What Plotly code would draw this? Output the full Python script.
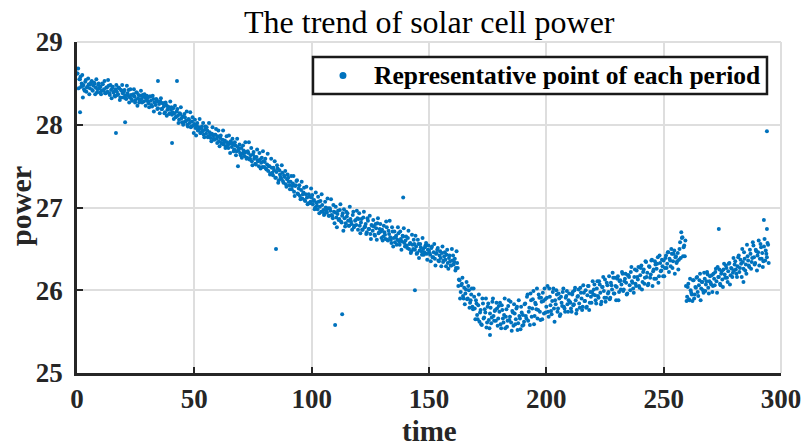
import plotly.graph_objects as go

# ---- data ----
t_start = 0.0          # first sample time
t_step = 0.5           # sampling period of each set of representative points
t_offset_b = 0.25      # second set is sampled half a period later

power_rows_a = [
    [28.62, 28.68, 28.55, 28.58, 28.50, 28.47, 28.43, 28.52, 28.40, 28.46, 28.49, 28.44, 28.51, 28.42, 28.47, 28.50, 28.45, 28.39, 28.48, 28.44],
    [28.46, 28.41, 28.49, 28.43, 28.38, 28.45, 28.40, 28.47, 28.36, 28.42, 28.44, 28.39, 28.35, 28.43, 28.40, 28.37, 28.44, 28.33, 28.41, 28.38],
    [28.40, 28.35, 28.31, 28.38, 28.42, 28.33, 28.36, 28.29, 28.37, 28.34, 28.30, 28.39, 28.32, 28.27, 28.35, 28.31, 28.36, 28.28, 28.33, 28.30],
    [28.32, 28.26, 28.34, 28.29, 28.22, 28.31, 28.27, 28.24, 28.30, 28.20, 28.25, 28.28, 28.19, 28.26, 28.22, 28.15, 28.24, 28.18, 28.21, 28.14],
    [28.18, 28.12, 28.20, 28.14, 28.09, 28.16, 28.11, 28.06, 28.13, 28.08, 28.10, 28.03, 28.09, 28.05, 28.00, 28.07, 28.02, 27.97, 28.04, 27.99],
    [28.01, 27.96, 27.99, 27.93, 27.97, 27.90, 27.95, 27.92, 27.88, 27.94, 27.89, 27.93, 27.86, 27.91, 27.84, 27.89, 27.87, 27.82, 27.88, 27.83],
    [27.86, 27.80, 27.84, 27.78, 27.82, 27.76, 27.81, 27.74, 27.79, 27.72, 27.77, 27.80, 27.73, 27.76, 27.70, 27.75, 27.68, 27.73, 27.71, 27.66],
    [27.72, 27.65, 27.69, 27.62, 27.67, 27.60, 27.66, 27.58, 27.63, 27.56, 27.64, 27.59, 27.53, 27.61, 27.57, 27.50, 27.58, 27.54, 27.49, 27.56],
    [27.55, 27.47, 27.52, 27.44, 27.50, 27.41, 27.48, 27.39, 27.45, 27.36, 27.43, 27.47, 27.33, 27.40, 27.35, 27.42, 27.30, 27.37, 27.28, 27.34],
    [27.36, 27.27, 27.31, 27.22, 27.29, 27.19, 27.26, 27.32, 27.17, 27.23, 27.14, 27.21, 27.11, 27.18, 27.09, 27.16, 27.12, 27.05, 27.13, 27.07],
    [27.12, 27.04, 27.09, 27.00, 27.06, 26.98, 27.07, 27.01, 26.95, 27.03, 26.97, 26.92, 27.00, 26.94, 26.99, 26.90, 26.96, 26.91, 26.87, 26.95],
    [26.94, 26.88, 26.92, 26.85, 26.97, 26.83, 26.90, 26.72, 26.87, 26.81, 26.89, 26.84, 26.78, 26.86, 26.80, 26.91, 26.76, 26.84, 26.79, 26.87],
    [26.86, 26.78, 26.82, 26.73, 26.88, 26.76, 26.80, 26.70, 26.84, 26.74, 26.68, 26.79, 26.72, 26.77, 26.66, 26.75, 26.81, 26.69, 26.74, 26.71],
    [26.73, 26.65, 26.70, 26.62, 26.76, 26.60, 26.68, 26.64, 26.57, 26.71, 26.63, 26.58, 26.66, 26.61, 26.69, 26.55, 26.62, 26.59, 26.65, 26.57],
    [26.60, 26.54, 26.63, 26.50, 26.57, 26.47, 26.55, 26.61, 26.49, 26.53, 26.45, 26.56, 26.48, 26.52, 26.43, 26.50, 26.46, 26.54, 26.44, 26.49],
    [26.48, 26.43, 26.51, 26.40, 26.46, 26.38, 26.44, 26.49, 26.36, 26.42, 26.39, 26.45, 26.34, 26.41, 26.37, 26.43, 26.33, 26.39, 26.35, 26.30],
    [26.36, 26.31, 26.38, 26.27, 26.33, 26.05, 26.12, 25.98, 26.08, 25.93, 26.03, 25.96, 26.10, 25.90, 26.00, 25.85, 25.95, 25.80, 26.02, 25.78],
    [25.88, 25.70, 25.82, 25.62, 25.76, 25.58, 25.84, 25.67, 25.73, 25.55, 25.80, 25.64, 25.72, 25.60, 25.86, 25.69, 25.75, 25.63, 25.78, 25.66],
    [25.74, 25.59, 25.82, 25.66, 25.70, 25.54, 25.77, 25.63, 25.88, 25.68, 25.61, 25.75, 25.57, 25.72, 25.65, 25.80, 25.60, 25.69, 25.53, 25.73],
    [25.70, 25.62, 25.84, 25.66, 25.95, 25.74, 25.58, 25.88, 25.78, 25.99, 25.69, 25.83, 26.02, 25.76, 25.91, 25.64, 25.86, 25.97, 25.72, 25.89],
    [25.80, 26.05, 25.68, 25.92, 25.75, 25.87, 26.02, 25.62, 25.83, 25.95, 25.78, 25.90, 25.71, 25.85, 25.98, 25.80, 25.74, 25.93, 25.83, 25.88],
    [25.86, 25.78, 25.95, 25.82, 26.00, 25.88, 25.76, 25.93, 25.84, 26.03, 25.90, 25.80, 25.97, 25.87, 25.79, 25.94, 26.05, 25.85, 25.92, 25.98],
    [25.95, 26.07, 25.88, 26.02, 25.93, 26.11, 25.97, 25.86, 26.04, 25.99, 26.13, 25.91, 26.06, 25.98, 25.89, 26.09, 26.01, 26.15, 25.96, 26.05],
    [26.04, 26.17, 25.98, 26.12, 26.07, 26.20, 26.01, 26.14, 26.09, 25.96, 26.18, 26.06, 26.22, 26.11, 26.02, 26.16, 26.08, 26.24, 26.13, 26.05],
    [26.18, 26.30, 26.10, 26.25, 26.15, 26.34, 26.21, 26.08, 26.28, 26.19, 26.37, 26.23, 26.14, 26.31, 26.26, 26.40, 26.17, 26.33, 26.24, 26.29],
    [26.36, 26.27, 26.42, 26.32, 26.46, 26.38, 26.29, 26.44, 26.35, 26.48, 26.40, 26.33, 26.45, 26.37, 26.58, 26.70, 26.64, 26.52, 26.41, 26.05],
    [25.92, 26.08, 25.88, 26.00, 25.95, 26.12, 25.90, 26.04, 26.15, 25.98, 26.06, 26.20, 26.02, 26.10, 25.97, 26.14, 26.07, 26.22, 26.03, 26.11],
    [26.09, 26.18, 26.05, 26.14, 26.22, 26.11, 26.28, 26.16, 26.08, 26.20, 26.13, 26.25, 26.19, 26.30, 26.15, 26.23, 26.33, 26.18, 26.26, 26.21],
    [26.24, 26.35, 26.20, 26.29, 26.42, 26.27, 26.32, 26.50, 26.26, 26.38, 26.31, 26.55, 26.36, 26.28, 26.44, 26.34, 26.58, 26.40, 26.33, 26.47],
    [26.42, 26.60, 26.38, 26.52, 26.45, 26.35, 26.62, 26.48, 26.40, 26.55],
]

power_rows_b = [
    [28.62, 28.44, 28.55, 28.46, 28.60, 28.48, 28.41, 28.54, 28.45, 28.56, 28.37, 28.49, 28.53, 28.41, 28.51, 28.37, 28.55, 28.43, 28.50, 28.39],
    [28.37, 28.50, 28.41, 28.53, 28.38, 28.45, 28.54, 28.38, 28.48, 28.32, 28.46, 28.40, 28.34, 28.48, 28.36, 28.45, 28.30, 28.42, 28.48, 28.33],
    [28.42, 28.32, 28.47, 28.35, 28.27, 28.43, 28.31, 28.36, 28.43, 28.27, 28.39, 28.23, 28.36, 28.29, 28.41, 28.27, 28.34, 28.37, 28.23, 28.35],
    [28.28, 28.21, 28.34, 28.24, 28.35, 28.16, 28.27, 28.31, 28.19, 28.28, 28.14, 28.32, 28.19, 28.26, 28.14, 28.27, 28.11, 28.22, 28.13, 28.28],
    [28.21, 28.15, 28.07, 28.23, 28.10, 28.19, 28.02, 28.14, 28.21, 28.03, 28.00, 28.13, 28.04, 28.16, 27.98, 28.06, 28.15, 27.98, 28.09, 27.90],
    [28.06, 27.87, 28.02, 27.94, 28.07, 27.90, 27.98, 28.02, 27.85, 27.98, 27.97, 27.85, 28.02, 27.88, 27.80, 27.97, 27.83, 27.88, 27.95, 27.78],
    [27.93, 27.74, 27.87, 27.77, 27.93, 27.79, 27.72, 27.86, 27.75, 27.87, 27.66, 27.78, 27.83, 27.68, 27.79, 27.63, 27.83, 27.69, 27.76, 27.63],
    [27.60, 27.75, 27.66, 27.79, 27.59, 27.68, 27.79, 27.59, 27.72, 27.51, 27.67, 27.61, 27.52, 27.70, 27.56, 27.66, 27.47, 27.60, 27.68, 27.49],
    [27.59, 27.46, 27.65, 27.50, 27.40, 27.59, 27.42, 27.48, 27.56, 27.36, 27.51, 27.30, 27.45, 27.37, 27.51, 27.32, 27.39, 27.44, 27.25, 27.40],
    [27.31, 27.22, 27.38, 27.26, 27.38, 27.14, 27.27, 27.33, 27.16, 27.27, 27.10, 27.31, 27.16, 27.24, 27.08, 27.25, 27.04, 27.16, 27.05, 27.23],
    [27.15, 27.08, 26.98, 27.18, 27.02, 27.13, 26.93, 27.08, 27.16, 26.95, 26.91, 27.07, 26.96, 27.11, 26.90, 26.99, 27.10, 26.90, 27.03, 26.81],
    [27.01, 26.76, 26.96, 26.86, 27.04, 26.82, 26.93, 26.98, 26.77, 26.95, 26.93, 26.78, 27.01, 26.83, 26.73, 26.95, 26.78, 26.85, 26.96, 26.73],
    [26.93, 26.69, 26.86, 26.73, 26.95, 26.77, 26.68, 26.87, 26.74, 26.90, 26.62, 26.78, 26.85, 26.67, 26.80, 26.61, 26.87, 26.70, 26.80, 26.63],
    [26.60, 26.78, 26.67, 26.83, 26.61, 26.72, 26.84, 26.61, 26.76, 26.53, 26.71, 26.64, 26.55, 26.76, 26.59, 26.71, 26.49, 26.66, 26.75, 26.53],
    [26.65, 26.51, 26.72, 26.56, 26.45, 26.67, 26.50, 26.56, 26.66, 26.44, 26.61, 26.39, 26.56, 26.47, 26.63, 26.43, 26.52, 26.57, 26.37, 26.54],
    [26.45, 26.35, 26.53, 26.40, 26.56, 26.30, 26.45, 26.51, 26.35, 26.47, 26.29, 26.53, 26.36, 26.46, 26.29, 26.49, 26.26, 26.42, 26.30, 26.50],
    [26.42, 26.34, 26.24, 26.47, 26.27, 26.13, 25.90, 26.06, 26.15, 25.90, 25.83, 26.01, 25.89, 26.05, 25.79, 25.88, 26.02, 25.77, 25.92, 25.65],
    [25.84, 25.65, 25.95, 25.73, 25.59, 25.90, 25.66, 25.77, 25.90, 25.61, 25.84, 25.54, 25.79, 25.67, 25.90, 25.63, 25.76, 25.85, 25.57, 25.81],
    [25.85, 25.54, 25.76, 25.61, 25.90, 25.68, 25.56, 25.81, 25.64, 25.86, 25.51, 25.73, 25.83, 25.59, 25.78, 25.52, 25.88, 25.66, 25.80, 25.57],
    [25.58, 25.83, 25.69, 25.92, 25.63, 25.79, 25.96, 25.68, 25.89, 25.59, 25.85, 25.77, 25.66, 25.95, 25.74, 25.91, 25.65, 25.87, 26.02, 25.73],
    [25.91, 25.74, 26.02, 25.82, 25.71, 25.98, 25.78, 25.88, 26.00, 25.74, 25.96, 25.69, 25.92, 25.81, 26.02, 25.78, 25.91, 25.99, 25.74, 25.96],
    [25.85, 25.74, 25.98, 25.83, 26.03, 25.72, 25.92, 26.01, 25.79, 25.97, 25.76, 26.06, 25.87, 26.00, 25.80, 26.05, 25.76, 25.98, 25.85, 26.11],
    [26.01, 25.94, 25.84, 26.11, 25.91, 26.07, 25.83, 26.04, 26.16, 25.91, 25.86, 26.09, 25.96, 26.17, 25.91, 26.06, 26.21, 25.96, 26.15, 25.88],
    [26.14, 25.88, 26.11, 26.01, 26.22, 25.99, 26.11, 26.20, 25.95, 26.18, 26.16, 26.00, 26.28, 26.09, 25.97, 26.25, 26.05, 26.16, 26.28, 26.03],
    [26.27, 26.01, 26.22, 26.08, 26.35, 26.16, 26.06, 26.29, 26.15, 26.36, 26.05, 26.25, 26.35, 26.14, 26.32, 26.09, 26.42, 26.23, 26.37, 26.17],
    [26.17, 26.39, 26.27, 26.46, 26.22, 26.36, 26.50, 26.27, 26.44, 26.20, 26.41, 26.35, 26.25, 26.50, 26.39, 26.63, 26.41, 26.54, 26.60, 25.87],
    [26.04, 25.89, 26.14, 25.97, 25.87, 26.12, 25.95, 26.03, 26.16, 25.93, 26.12, 25.88, 26.10, 26.00, 26.21, 25.99, 26.11, 26.19, 25.96, 26.17],
    [26.07, 25.98, 26.20, 26.06, 26.26, 25.97, 26.16, 26.25, 26.06, 26.23, 26.04, 26.32, 26.15, 26.27, 26.10, 26.32, 26.07, 26.27, 26.16, 26.39],
    [26.31, 26.25, 26.16, 26.40, 26.22, 26.37, 26.16, 26.34, 26.46, 26.24, 26.20, 26.41, 26.30, 26.49, 26.26, 26.39, 26.54, 26.31, 26.49, 26.24],
    [26.46, 26.30, 26.56, 26.38, 26.28, 26.53, 26.36, 26.44, 26.57, 26.33],
]

# isolated points (time, power)
outlier_time = [1.3, 2.5, 16.6, 20.5, 34.5, 40.5, 42.6, 68.6, 84.8, 110.0, 113.0,
                139.0, 144.0, 176.0, 273.5, 284.0, 292.7, 294.0, 294.0]
outlier_power = [28.15, 28.33, 27.90, 28.03, 28.53, 27.78, 28.53, 27.50, 26.50, 25.58, 25.71,
                 27.12, 26.00, 25.46, 26.74, 26.10, 26.85, 26.74, 27.92]

x_ticks = [0, 50, 100, 150, 200, 250, 300]
y_ticks = [25, 26, 27, 28, 29]
legend_label = "Representative point of each period"

# ---- assemble ----
power_a = [v for row in power_rows_a for v in row]
power_b = [v for row in power_rows_b for v in row]
time_a = [t_start + i * t_step for i in range(len(power_a))]
time_b = [t_start + t_offset_b + i * t_step for i in range(len(power_b))]
all_t = time_a + time_b + outlier_time
all_p = power_a + power_b + outlier_power

BLUE = "#0072BD"
AX = "#262626"
GRID = "#dedede"
SERIF = "Liberation Serif"

fig = go.Figure()
fig.add_trace(go.Scatter(
    x=all_t, y=all_p, mode="markers",
    marker=dict(color=BLUE, size=4, line=dict(width=0)),
    name=legend_label, showlegend=False, hoverinfo="skip",
))

# legend drawn as a boxed key (matches the MATLAB legend box)
lx0, lx1, ly0, ly1 = 0.3352, 0.9801, 0.8429, 0.9547
lmx, lmy = 0.3778, 0.8988

fig.update_layout(
    width=803, height=448,
    margin=dict(l=77, r=22, t=42, b=75),
    plot_bgcolor="white", paper_bgcolor="white",
    xaxis=dict(
        range=[0, 300], tickvals=x_ticks, ticktext=[str(v) for v in x_ticks],
        showgrid=True, gridcolor=GRID, gridwidth=2, zeroline=False, automargin=False,
        showline=True, linecolor=AX, linewidth=2.5,
        ticks="inside", ticklen=6, tickwidth=2, tickcolor=AX,
        tickfont=dict(family=SERIF, size=27, color=AX, weight="bold"),
    ),
    yaxis=dict(
        range=[25, 29], tickvals=y_ticks, ticktext=[str(v) for v in y_ticks],
        showgrid=True, gridcolor=GRID, gridwidth=2, zeroline=False, automargin=False,
        showline=True, linecolor=AX, linewidth=2.5,
        ticks="inside", ticklen=6, tickwidth=2, tickcolor=AX,
        tickfont=dict(family=SERIF, size=27, color=AX, weight="bold"),
        ticklabelstandoff=6,
    ),
    annotations=[
        dict(text="The trend of solar cell power", x=0.5, y=1.060, xref="paper", yref="paper",
             xanchor="center", yanchor="middle", showarrow=False,
             font=dict(family=SERIF, size=32, color="black")),
        dict(text="time", x=0.5, y=-0.176, xref="paper", yref="paper",
             xanchor="center", yanchor="middle", showarrow=False,
             font=dict(family=SERIF, size=29, color=AX, weight="bold")),
        dict(text="power", x=-0.0795, y=0.505, xref="paper", yref="paper", textangle=-90,
             xanchor="center", yanchor="middle", showarrow=False,
             font=dict(family=SERIF, size=30, color=AX, weight="bold")),
        dict(text=legend_label, x=0.419, y=lmy, xref="paper", yref="paper",
             xanchor="left", yanchor="middle", showarrow=False,
             font=dict(family=SERIF, size=25.5, color="black", weight="bold")),
    ],
    shapes=[
        dict(type="line", xref="paper", yref="paper", x0=0, x1=1, y0=1, y1=1,
             line=dict(color=GRID, width=2), layer="below"),
        dict(type="line", xref="paper", yref="paper", x0=1, x1=1, y0=0, y1=1,
             line=dict(color=GRID, width=2), layer="below"),
        dict(type="rect", xref="paper", yref="paper", x0=lx0, x1=lx1, y0=ly0, y1=ly1,
             fillcolor="white", line=dict(color="#1a1a1a", width=2.5), layer="above"),
        dict(type="circle", xref="paper", yref="paper",
             x0=lmx - 3.5 / 704, x1=lmx + 3.5 / 704, y0=lmy - 3.5 / 331, y1=lmy + 3.5 / 331,
             fillcolor=BLUE, line=dict(width=0), layer="above"),
    ],
)

# the page has the browser's default 8px body margin; remove it so the
# 803x448 figure fills the window exactly
fig.write_html("out.html", config={"displayModeBar": False},
               post_script="document.body.style.margin='0';")
